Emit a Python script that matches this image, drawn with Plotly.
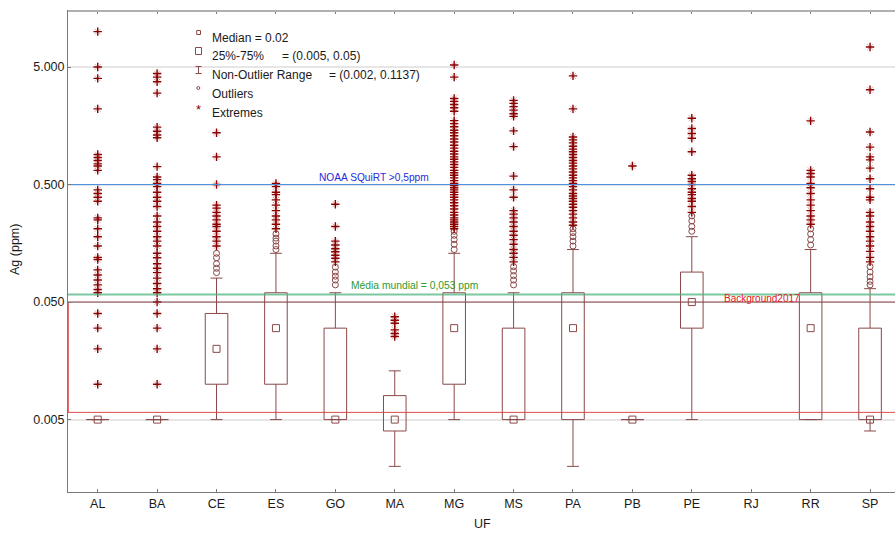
import math
import plotly.graph_objects as go

# ---------------- data ----------------
categories = ["AL", "BA", "CE", "ES", "GO", "MA", "MG", "MS", "PA", "PB", "PE", "RJ", "RR", "SP"]

q1     = [0.005, 0.005, 0.010, 0.010, 0.005, 0.004, 0.010, 0.005, 0.005, 0.005, 0.030, None, 0.005, 0.005]
median = [0.005, 0.005, 0.020, 0.030, 0.005, 0.005, 0.030, 0.005, 0.030, 0.005, 0.050, None, 0.030, 0.005]
q3     = [0.005, 0.005, 0.040, 0.060, 0.030, 0.008, 0.060, 0.030, 0.060, 0.005, 0.090, None, 0.060, 0.030]
lower  = [0.005, 0.005, 0.005, 0.005, 0.005, 0.002, 0.005, 0.005, 0.002, 0.005, 0.005, None, 0.005, 0.004]
upper  = [0.005, 0.005, 0.080, 0.130, 0.060, 0.013, 0.130, 0.060, 0.140, 0.005, 0.180, None, 0.140, 0.065]

outliers = [
    [],                                            # AL
    [],                                            # BA
    [0.13, 0.119, 0.106, 0.097, 0.089],            # CE
    [0.19, 0.175, 0.165, 0.15, 0.14],              # ES
    [0.099, 0.09, 0.083, 0.077, 0.07],             # GO
    [],                                            # MA
    [0.2, 0.185, 0.17, 0.155, 0.14],               # MG
    [0.1, 0.092, 0.084, 0.077, 0.07],              # MS
    [0.21, 0.195, 0.18, 0.165, 0.15],              # PA
    [],                                            # PB
    [0.27, 0.245, 0.22, 0.2],                      # PE
    [],                                            # RJ
    [0.21, 0.19, 0.17, 0.153],                     # RR
    [0.1, 0.09, 0.082, 0.075, 0.07],               # SP
]

extremes = [
    [10, 5, 4, 2.2, 0.9, 0.85, 0.8, 0.75, 0.72, 0.66, 0.45, 0.42, 0.39, 0.36, 0.26, 0.25,
     0.21, 0.18, 0.15, 0.12, 0.115, 0.094, 0.085, 0.077, 0.07, 0.064, 0.06, 0.04, 0.03, 0.02, 0.01],
    [4.4, 4.1, 3.75, 3.0, 1.54, 1.42, 1.32, 1.25, 0.71, 0.58, 0.55, 0.51, 0.48, 0.43, 0.39, 0.36,
     0.325, 0.27, 0.24, 0.22, 0.2, 0.18, 0.165, 0.15, 0.13, 0.119, 0.106, 0.097, 0.089, 0.08,
     0.072, 0.065, 0.06, 0.05, 0.04, 0.03, 0.02, 0.01],
    [1.38, 0.86, 0.5, 0.334, 0.315, 0.29, 0.27, 0.25, 0.23, 0.22, 0.2, 0.18, 0.165, 0.15],
    [0.51, 0.48, 0.43, 0.41, 0.37, 0.334, 0.3, 0.27, 0.25, 0.23, 0.21],
    [0.34, 0.22, 0.165, 0.153, 0.142, 0.134, 0.125, 0.118, 0.11],
    [0.0375, 0.035, 0.033, 0.029, 0.027, 0.0255],
    [5.2, 4.1, 2.7, 2.55, 2.4, 2.25, 2.1, 1.75, 1.65, 1.55, 1.45, 1.38, 1.3, 1.22, 1.15, 1.08,
     1.02, 0.96, 0.91, 0.86, 0.82, 0.78, 0.74, 0.7, 0.66, 0.63, 0.6, 0.57, 0.54, 0.51, 0.49,
     0.47, 0.45, 0.43, 0.41, 0.39, 0.37, 0.35, 0.33, 0.31, 0.29, 0.275, 0.26, 0.25, 0.24,
     0.23, 0.22, 0.21],
    [2.6, 2.45, 2.3, 2.15, 2.0, 1.9, 1.43, 1.05, 0.59, 0.45, 0.39, 0.3, 0.28, 0.26, 0.24,
     0.22, 0.2, 0.185, 0.17, 0.155, 0.14, 0.13, 0.12, 0.11],
    [4.2, 2.2, 1.27, 1.2, 1.13, 1.06, 1.0, 0.95, 0.9, 0.85, 0.8, 0.76, 0.72, 0.68, 0.64, 0.6,
     0.57, 0.54, 0.51, 0.48, 0.45, 0.42, 0.4, 0.38, 0.36, 0.34, 0.32, 0.3, 0.28, 0.26, 0.24, 0.225],
    [0.72],
    [1.83, 1.5, 1.36, 1.24, 0.95, 0.6, 0.56, 0.53, 0.5, 0.46, 0.43, 0.41, 0.38, 0.36, 0.325, 0.29],
    [],
    [1.74, 0.66, 0.62, 0.58, 0.51, 0.47, 0.42, 0.37, 0.334, 0.3, 0.27, 0.25, 0.23],
    [7.4, 3.2, 1.4, 1.04, 0.86, 0.81, 0.69, 0.56, 0.46, 0.39, 0.37, 0.29, 0.27, 0.24, 0.22,
     0.2, 0.18, 0.165, 0.15, 0.135, 0.12, 0.11],
]

y_tickvals = [0.005, 0.05, 0.5, 5]
y_ticktext = ["0.005", "0.050", "0.500", "5.000"]

noaa_level = 0.5
world_mean_level = 0.058
background_level = 0.05
background_low = 0.00576

legend_rows = ["Median = 0.02", "25%-75%", "Non-Outlier Range", "Outliers", "Extremes"]
legend_values = ["", "= (0.005, 0.05)", "= (0.002, 0.1137)", "", ""]

# ---------------- styling ----------------
W, H = 895, 533
ML, MR, MT, MB = 68, 0, 11, 41
PW, PH = W - ML - MR, H - MT - MB
X_RANGE = [-0.5, 13.42]
Y_RANGE = [-2.917, 1.1755]
BOX_HALF = 0.19
CAP_HALF = 0.1
BOX_COLOR = "#8a4848"
EXT_COLOR = "#8b0000"
FONT = "Liberation Sans, Arial, sans-serif"


def px_x(p):
    return (p - ML) / PW


def px_y(p):
    return (H - MB - p) / PH


# ---------------- build marks ----------------
bx, by, wx, wy, mx, my = [], [], [], [], [], []
for i, c in enumerate(categories):
    if q1[i] is None:
        continue
    bx += [i - BOX_HALF, i + BOX_HALF, i + BOX_HALF, i - BOX_HALF, i - BOX_HALF, None]
    by += [q1[i], q1[i], q3[i], q3[i], q1[i], None]
    wx += [i, i, None, i, i, None]
    wy += [lower[i], q1[i], None, q3[i], upper[i], None]
    wx += [i - CAP_HALF, i + CAP_HALF, None, i - CAP_HALF, i + CAP_HALF, None]
    wy += [lower[i], lower[i], None, upper[i], upper[i], None]
    mx.append(i)
    my.append(median[i])

ox, oy, ex, ey = [], [], [], []
for i in range(len(categories)):
    for v in outliers[i]:
        ox.append(i)
        oy.append(v)
    for v in extremes[i]:
        ex.append(i)
        ey.append(v)

fig = go.Figure()
fig.add_trace(go.Scatter(x=wx, y=wy, mode="lines", line=dict(color=BOX_COLOR, width=1),
                         hoverinfo="skip", showlegend=False))
fig.add_trace(go.Scatter(x=bx, y=by, mode="lines", line=dict(color=BOX_COLOR, width=1),
                         hoverinfo="skip", showlegend=False))
fig.add_trace(go.Scatter(x=mx, y=my, mode="markers",
                         marker=dict(symbol="square-open", size=7, color=BOX_COLOR,
                                     line=dict(width=1, color=BOX_COLOR)),
                         showlegend=False))
fig.add_trace(go.Scatter(x=ox, y=oy, mode="markers",
                         marker=dict(symbol="circle-open", size=6, color=BOX_COLOR,
                                     line=dict(width=1, color=BOX_COLOR)),
                         showlegend=False))
# extremes: faint diagonal strokes + strong plus (Statistica-like asterisk)
fig.add_trace(go.Scatter(x=ex, y=ey, mode="markers",
                         marker=dict(symbol="x-thin-open", size=6, color="rgba(139,0,0,0.3)",
                                     line=dict(width=1, color="rgba(139,0,0,0.3)")),
                         hoverinfo="skip", showlegend=False))
fig.add_trace(go.Scatter(x=ex, y=ey, mode="markers",
                         marker=dict(symbol="cross-thin-open", size=6, color=EXT_COLOR,
                                     line=dict(width=1.4, color=EXT_COLOR)),
                         showlegend=False))

# reference lines
def hline(level, color, width):
    fig.add_trace(go.Scatter(x=X_RANGE, y=[level, level], mode="lines",
                             line=dict(color=color, width=width), hoverinfo="skip",
                             showlegend=False))

hline(background_low, "#e04a4a", 1)
fig.add_trace(go.Scatter(x=[X_RANGE[0] + 0.005] * 2, y=[background_low, background_level],
                         mode="lines", line=dict(color="#e04a4a", width=1),
                         hoverinfo="skip", showlegend=False))
hline(background_level, "#8a4848", 1)
hline(world_mean_level, "rgba(80,180,130,0.75)", 2.2)
hline(noaa_level, "#4a8fe0", 1)

annotations = [
    dict(x=3.69, y=math.log10(noaa_level), xref="x", yref="y", text="NOAA SQuiRT >0,5ppm",
         showarrow=False, xanchor="left", yanchor="bottom", yshift=0,
         font=dict(family=FONT, size=10.2, color="#2a2ad8")),
    dict(x=4.23, y=math.log10(world_mean_level), xref="x", yref="y",
         text="Média mundial = 0,053 ppm", showarrow=False, xanchor="left", yanchor="bottom",
         yshift=2, font=dict(family=FONT, size=10.3, color="#2f9a2f")),
    dict(x=10.51, y=math.log10(background_level), xref="x", yref="y", text="Background2017",
         showarrow=False, xanchor="left", yanchor="middle", yshift=4,
         font=dict(family=FONT, size=10, color="#e02020")),
    dict(x=px_x(15), y=px_y(250), xref="paper", yref="paper", text="Ag (ppm)", textangle=-90,
         showarrow=False, xanchor="center", yanchor="middle",
         font=dict(family=FONT, size=12.5, color="#1a1a1a")),
    dict(x=px_x(482), y=px_y(524), xref="paper", yref="paper", text="UF",
         showarrow=False, xanchor="center", yanchor="middle",
         font=dict(family=FONT, size=12.5, color="#1a1a1a")),
]

row_y = [37.7, 56.3, 75.2, 94.0, 112.7]
val_x = [None, 280, 326.7, None, None]
for k, txt in enumerate(legend_rows):
    annotations.append(dict(x=px_x(210), y=px_y(row_y[k]), xref="paper", yref="paper",
                            text=txt, showarrow=False, xanchor="left", yanchor="middle",
                            font=dict(family=FONT, size=12, color="#1a1a1a")))
    if legend_values[k]:
        annotations.append(dict(x=px_x(val_x[k]), y=px_y(row_y[k]), xref="paper", yref="paper",
                                text=legend_values[k], showarrow=False, xanchor="left",
                                yanchor="middle",
                                font=dict(family=FONT, size=12, color="#1a1a1a")))
annotations.append(dict(x=px_x(198.5), y=px_y(109), xref="paper", yref="paper", text="*",
                        showarrow=False, xanchor="center", yanchor="middle",
                        font=dict(family=FONT, size=13, color=EXT_COLOR)))

shapes = [
    # top frame line
    dict(type="line", xref="paper", yref="paper", x0=0, x1=1, y0=1, y1=1,
         line=dict(color="#b0b0b0", width=2)),
    # legend symbols
    dict(type="rect", xref="paper", yref="paper", x0=px_x(196.7), x1=px_x(200.5),
         y0=px_y(30.5), y1=px_y(34.5), line=dict(color=BOX_COLOR, width=1)),
    dict(type="rect", xref="paper", yref="paper", x0=px_x(195.5), x1=px_x(201.5),
         y0=px_y(47.5), y1=px_y(54.5), line=dict(color=BOX_COLOR, width=1)),
    dict(type="line", xref="paper", yref="paper", x0=px_x(198.5), x1=px_x(198.5),
         y0=px_y(66.5), y1=px_y(73.5), line=dict(color=BOX_COLOR, width=1)),
    dict(type="line", xref="paper", yref="paper", x0=px_x(195.5), x1=px_x(201.5),
         y0=px_y(66.5), y1=px_y(66.5), line=dict(color=BOX_COLOR, width=1)),
    dict(type="line", xref="paper", yref="paper", x0=px_x(195.5), x1=px_x(201.5),
         y0=px_y(73.5), y1=px_y(73.5), line=dict(color=BOX_COLOR, width=1)),
    dict(type="circle", xref="paper", yref="paper", x0=px_x(196.8), x1=px_x(199.8),
         y0=px_y(86.5), y1=px_y(89.5), line=dict(color=BOX_COLOR, width=1)),
]

fig.update_layout(
    width=W, height=H,
    margin=dict(l=ML, r=MR, t=MT, b=MB, pad=0),
    paper_bgcolor="white", plot_bgcolor="white",
    font=dict(family=FONT, size=12.5, color="#1a1a1a"),
    showlegend=False,
    annotations=annotations,
    shapes=shapes,
    xaxis=dict(range=X_RANGE, tickmode="array", tickvals=list(range(len(categories))),
               ticktext=categories, showgrid=False, zeroline=False, showline=True,
               linecolor="#7a7a7a", linewidth=1, mirror="ticks", ticks="inside",
               ticklen=3, tickcolor="#7a7a7a", tickfont=dict(size=12.5, color="#1a1a1a")),
    yaxis=dict(type="log", range=Y_RANGE, tickmode="array", tickvals=y_tickvals,
               ticktext=y_ticktext, showgrid=True, gridcolor="#e6e6e6", gridwidth=1.5,
               zeroline=False, showline=True, linecolor="#7a7a7a", linewidth=1,
               ticks="inside", ticklen=3, tickcolor="#7a7a7a",
               tickfont=dict(size=12.5, color="#1a1a1a")),
)

fig.write_html("out.html")
